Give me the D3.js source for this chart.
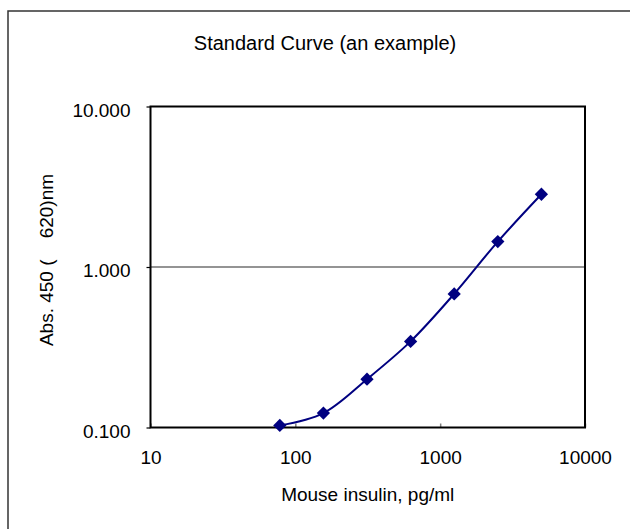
<!DOCTYPE html>
<html>
<head>
<meta charset="utf-8">
<script src="https://cdn.jsdelivr.net/npm/d3@7"></script>
<style>
  html, body { margin: 0; padding: 0; background: #fff; }
  svg { display: block; font-family: "Liberation Sans", Arial, sans-serif; }
</style>
</head>
<body>
<svg width="630" height="529"></svg>
<script>
// standard curve values
const concentrations = [78.125, 156.25, 312.5, 625, 1250, 2500, 5000];
const absorbance = [0.103, 0.123, 0.2, 0.344, 0.68, 1.44, 2.84];
const xTicks = [10, 100, 1000, 10000];
const yTicks = [0.1, 1, 10];

const svg = d3.select("svg"),
      margin = { top: 106.5, right: 45, bottom: 101.5, left: 150.5 },
      width = +svg.attr("width") - margin.left - margin.right,
      height = +svg.attr("height") - margin.top - margin.bottom;

// outer chart frame (only top and left edges fall inside the window)
svg.append("path")
  .attr("d", "M8,529V11H630")
  .attr("fill", "none")
  .attr("stroke", "#333")
  .attr("stroke-width", 1.5);

const g = svg.append("g").attr("transform", `translate(${margin.left},${margin.top})`);

const x = d3.scaleLog().domain([10, 10000]).range([0, width]);
const y = d3.scaleLog().domain([0.1, 10]).range([height, 0]);

// horizontal gridline at 1.0
g.append("g")
  .selectAll("line")
  .data(yTicks.slice(1, -1))
  .join("line")
  .attr("x1", 0)
  .attr("x2", width)
  .attr("y1", d => y(d))
  .attr("y2", d => y(d))
  .attr("stroke", "#707070")
  .attr("stroke-width", 1.3);

// x axis: inside ticks, labels below
g.append("g")
  .attr("transform", `translate(0,${height})`)
  .call(d3.axisBottom(x).tickValues(xTicks).tickSize(-4).tickPadding(20).tickFormat(d3.format("d")))
  .call(a => a.select(".domain").remove())
  .call(a => a.selectAll("line").attr("stroke", "#808080").attr("stroke-width", 1.5))
  .call(a => a.selectAll("text").attr("fill", "#000").style("font-size", "19px")
    .attr("font-family", "Liberation Sans, Arial, sans-serif").attr("y", 23).attr("dy", "0.71em"));

// y axis: outside ticks, labels to the left
g.append("g")
  .call(d3.axisLeft(y).tickValues(yTicks).tickSize(4).tickPadding(16).tickFormat(d3.format(".3f")))
  .call(a => a.select(".domain").remove())
  .call(a => a.selectAll("line").attr("stroke", "#000").attr("stroke-width", 1.2))
  .call(a => a.selectAll("text").attr("fill", "#000").style("font-size", "19px")
    .attr("font-family", "Liberation Sans, Arial, sans-serif").attr("dy", "0.5em"));

// plot area border
g.append("rect")
  .attr("width", width)
  .attr("height", height)
  .attr("fill", "none")
  .attr("stroke", "#000")
  .attr("stroke-width", 2);

const points = concentrations.map((c, i) => ({ c, a: absorbance[i] }));

// smoothed curve
g.append("path")
  .datum(points)
  .attr("fill", "none")
  .attr("stroke", "#000080")
  .attr("stroke-width", 2)
  .attr("d", d3.line().x(d => x(d.c)).y(d => y(d.a)).curve(d3.curveCatmullRom));

// diamond markers
g.selectAll(".marker")
  .data(points)
  .join("path")
  .attr("class", "marker")
  .attr("d", d3.symbol().type(d3.symbolSquare).size(88))
  .attr("transform", d => `translate(${x(d.c)},${y(d.a)}) rotate(45)`)
  .attr("fill", "#000080");

// titles
svg.append("text")
  .attr("x", 325)
  .attr("y", 50)
  .attr("text-anchor", "middle")
  .style("font-size", "20px")
  .text("Standard Curve (an example)");

svg.append("text")
  .attr("x", margin.left + width / 2)
  .attr("y", 501)
  .attr("text-anchor", "middle")
  .style("font-size", "19px")
  .text("Mouse insulin, pg/ml");

svg.append("text")
  .attr("transform", "translate(53,260) rotate(-90)")
  .attr("text-anchor", "middle")
  .style("font-size", "19px")
  .text("Abs. 450 (\u00a0\u00a0\u00a0 620)nm");
</script>
</body>
</html>
